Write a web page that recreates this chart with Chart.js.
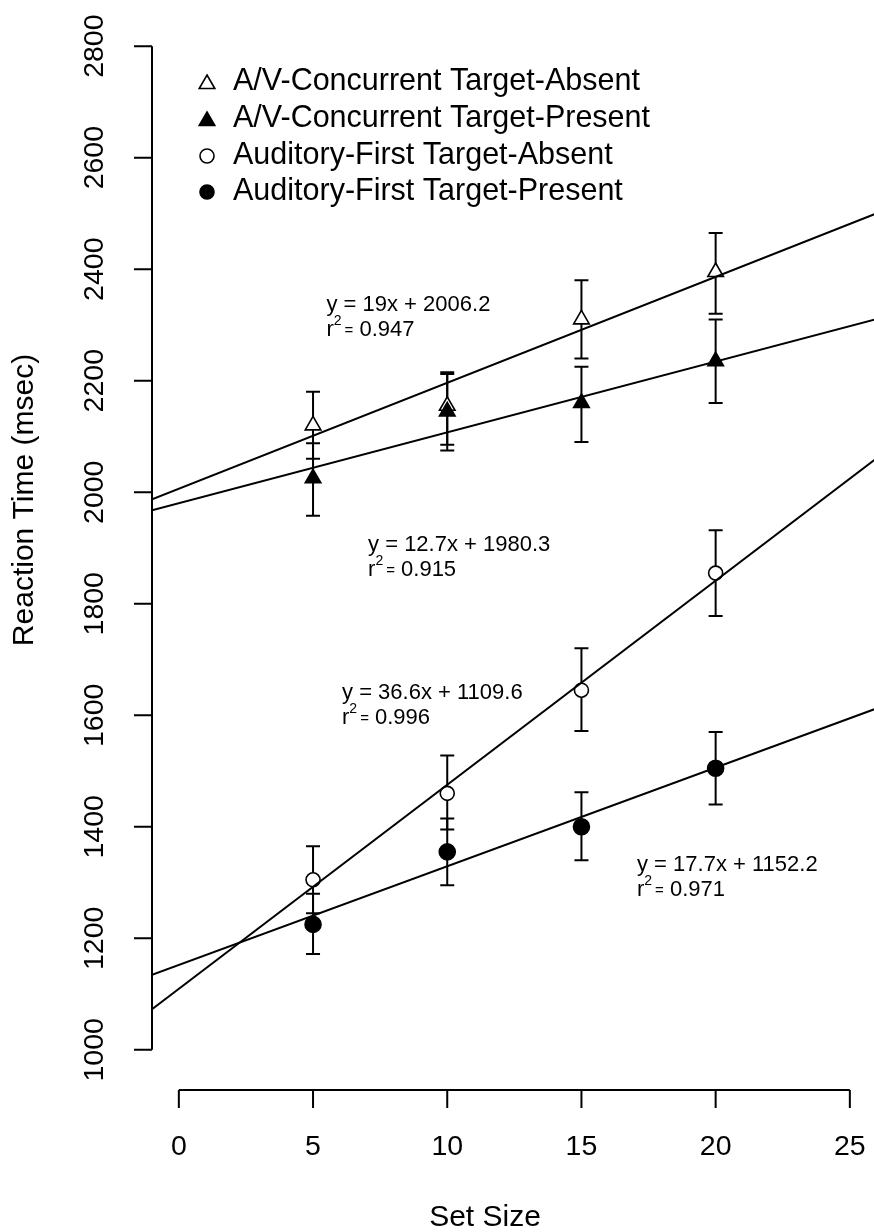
<!DOCTYPE html>
<html>
<head>
<meta charset="utf-8">
<script src="https://cdn.jsdelivr.net/npm/chart.js@4/dist/chart.umd.min.js"></script>
<style>
  html, body { margin: 0; padding: 0; background: #fff; overflow: hidden; }
  canvas { display: block; }
</style>
</head>
<body>
<canvas id="rtChart" width="874" height="1232"></canvas>
<script>
const setSizes = [5, 10, 15, 20];

// mean reaction times (msec)
const avAbsent = [2120, 2155, 2310, 2395];
const avPresent = [2025, 2145, 2160, 2235];
const afAbsent = [1305, 1460, 1645, 1855];
const afPresent = [1225, 1355, 1400, 1505];

// error bar ends (low / high)
const avAbsentLo = [2060, 2085, 2240, 2320];
const avAbsentHi = [2180, 2215, 2380, 2465];
const avPresentLo = [1958, 2075, 2090, 2160];
const avPresentHi = [2088, 2212, 2225, 2310];
const afAbsentLo = [1245, 1395, 1572, 1778];
const afAbsentHi = [1365, 1528, 1720, 1932];
const afPresentLo = [1172, 1295, 1340, 1440];
const afPresentHi = [1280, 1415, 1462, 1570];

const seriesNames = [
  'A/V-Concurrent Target-Absent',
  'A/V-Concurrent Target-Present',
  'Auditory-First Target-Absent',
  'Auditory-First Target-Present',
];

// linear fits
const fitSlopes = [19, 12.7, 36.6, 17.7];
const fitIntercepts = [2006.2, 1980.3, 1109.6, 1152.2];
const fitR2 = ['0.947', '0.915', '0.996', '0.971'];
// where each fit label sits (data units, left edge / first line)
const fitLabelX = [5.5, 7.05, 6.08, 17.07];
const fitLabelY = [2336, 1905, 1640, 1331];

const xTicks = [0, 5, 10, 15, 20, 25];
const yTicks = [1000, 1200, 1400, 1600, 1800, 2000, 2200, 2400, 2600, 2800];

const FONT = '"Liberation Sans", Arial, Helvetica, sans-serif';

const means = [avAbsent, avPresent, afAbsent, afPresent];
const lows = [avAbsentLo, avPresentLo, afAbsentLo, afPresentLo];
const highs = [avAbsentHi, avPresentHi, afAbsentHi, afPresentHi];
const markers = [
  { style: 'triangle', filled: false, r: 9 },
  { style: 'triangle', filled: true, r: 9 },
  { style: 'circle', filled: false, r: 7 },
  { style: 'circle', filled: true, r: 8 },
];

function drawMarker(ctx, m, x, y, r) {
  ctx.beginPath();
  if (m.style === 'triangle') {
    for (let k = 0; k < 3; k++) {
      const a = k * 2 * Math.PI / 3;
      const px = x + Math.sin(a) * r, py = y - Math.cos(a) * r;
      k === 0 ? ctx.moveTo(px, py) : ctx.lineTo(px, py);
    }
    ctx.closePath();
  } else {
    ctx.arc(x, y, r, 0, Math.PI * 2);
  }
  ctx.fillStyle = m.filled ? '#000' : '#fff';
  ctx.fill();
  ctx.lineWidth = 1.6;
  ctx.strokeStyle = '#000';
  ctx.stroke();
}

const pointSets = means.map((vals, i) => ({
  label: seriesNames[i],
  data: setSizes.map((s, j) => ({ x: s, y: vals[j] })),
  pointStyle: markers[i].style,
  pointRadius: markers[i].r,
  pointBackgroundColor: markers[i].filled ? '#000' : '#fff',
  pointBorderColor: '#000',
  pointBorderWidth: 1.6,
  showLine: false,
  order: 4 - i,
}));

const fitSets = fitSlopes.map((m, i) => ({
  label: 'fit ' + i,
  data: [-1, 26].map(x => ({ x: x, y: fitIntercepts[i] + m * x })),
  showLine: true,
  borderColor: '#000',
  borderWidth: 2,
  pointRadius: 0,
  order: 0,
}));

// error bars go under the markers
const errorBars = {
  id: 'errorBars',
  beforeDatasetsDraw(chart) {
    const { ctx, scales: { x, y } } = chart;
    ctx.save();
    ctx.strokeStyle = '#000';
    ctx.lineWidth = 2;
    means.forEach((vals, i) => {
      setSizes.forEach((s, j) => {
        const px = x.getPixelForValue(s);
        const lo = y.getPixelForValue(lows[i][j]);
        const hi = y.getPixelForValue(highs[i][j]);
        ctx.beginPath();
        ctx.moveTo(px, lo); ctx.lineTo(px, hi);
        ctx.moveTo(px - 7, lo); ctx.lineTo(px + 7, lo);
        ctx.moveTo(px - 7, hi); ctx.lineTo(px + 7, hi);
        ctx.stroke();
      });
    });
    ctx.restore();
  }
};

// R-style detached axes, legend and fit labels
const decorations = {
  id: 'decorations',
  afterDraw(chart) {
    const { ctx, chartArea, scales: { x, y } } = chart;
    ctx.save();
    ctx.strokeStyle = '#000';
    ctx.fillStyle = '#000';
    ctx.lineWidth = 2;

    // y axis
    const ax = chartArea.left;
    ctx.beginPath();
    ctx.moveTo(ax, y.getPixelForValue(yTicks[0]));
    ctx.lineTo(ax, y.getPixelForValue(yTicks[yTicks.length - 1]));
    yTicks.forEach(t => {
      const py = y.getPixelForValue(t);
      ctx.moveTo(ax, py); ctx.lineTo(ax - 18, py);
    });
    ctx.stroke();
    ctx.font = '28.5px ' + FONT;
    ctx.textAlign = 'center';
    ctx.textBaseline = 'middle';
    yTicks.forEach(t => {
      ctx.save();
      ctx.translate(ax - 57, y.getPixelForValue(t));
      ctx.rotate(-Math.PI / 2);
      ctx.fillText(String(t), 0, 0);
      ctx.restore();
    });

    // x axis
    const ay = chartArea.bottom;
    ctx.beginPath();
    ctx.moveTo(x.getPixelForValue(xTicks[0]), ay);
    ctx.lineTo(x.getPixelForValue(xTicks[xTicks.length - 1]), ay);
    xTicks.forEach(t => {
      const px = x.getPixelForValue(t);
      ctx.moveTo(px, ay); ctx.lineTo(px, ay + 18);
    });
    ctx.stroke();
    xTicks.forEach(t => ctx.fillText(String(t), x.getPixelForValue(t), ay + 57));

    // axis titles
    ctx.font = '30px ' + FONT;
    ctx.fillText('Set Size', 485, 1218);
    ctx.save();
    ctx.translate(25, 500);
    ctx.rotate(-Math.PI / 2);
    ctx.fillText('Reaction Time (msec)', 0, 0);
    ctx.restore();

    // legend
    ctx.textAlign = 'left';
    ctx.font = '30.5px ' + FONT;
    const rowY = [82, 119, 156, 192];
    seriesNames.forEach((name, i) => {
      const m = markers[i];
      drawMarker(ctx, m, 207, rowY[i] + (m.style === 'triangle' ? 2 : 0), m.style === 'triangle' ? 9 : 7);
      ctx.fillStyle = '#000';
      ctx.fillText(name, 233, rowY[i]);
    });

    // fit equations
    fitSlopes.forEach((m, i) => {
      const lx = x.getPixelForValue(fitLabelX[i]);
      const ly = y.getPixelForValue(fitLabelY[i]);
      ctx.font = '22px ' + FONT;
      ctx.fillText('y = ' + m + 'x + ' + fitIntercepts[i], lx, ly);
      const l2 = ly + 25;
      let cx = lx;
      ctx.fillText('r', cx, l2);
      cx += ctx.measureText('r').width;
      ctx.font = '14px ' + FONT;
      ctx.fillText('2', cx, l2 - 9);
      cx += ctx.measureText('2').width + 3;
      ctx.font = '15px ' + FONT;
      ctx.fillText('=', cx, l2 + 1);
      cx += ctx.measureText('=').width;
      ctx.font = '22px ' + FONT;
      ctx.fillText(' ' + fitR2[i], cx, l2);
    });
    ctx.restore();
  }
};

new Chart(document.getElementById('rtChart'), {
  type: 'scatter',
  data: { datasets: [...pointSets, ...fitSets] },
  options: {
    responsive: false,
    animation: false,
    events: [],
    layout: { autoPadding: false, padding: { left: 152, right: 0, top: 6, bottom: 142 } },
    scales: {
      x: { type: 'linear', min: -1, max: 25.9, display: false },
      y: { type: 'linear', min: 928, max: 2872, display: false },
    },
    plugins: {
      legend: { display: false },
      tooltip: { enabled: false },
    },
  },
  plugins: [errorBars, decorations],
});
</script>
</body>
</html>
